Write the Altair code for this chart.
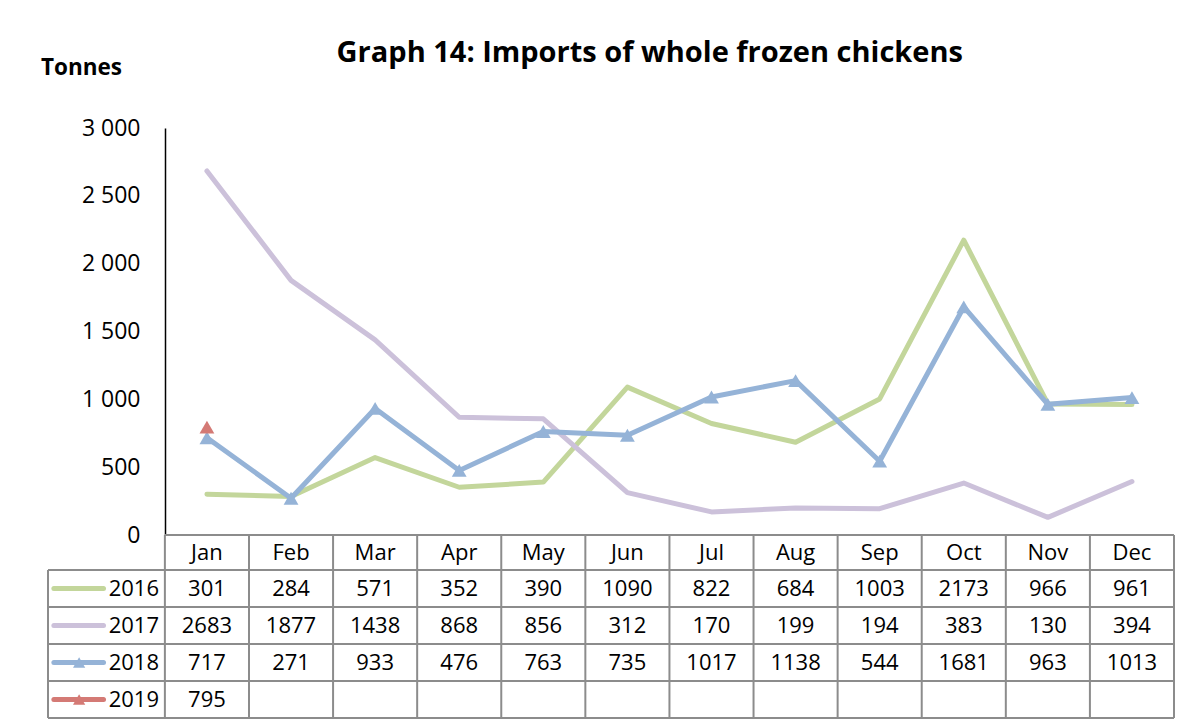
import altair as alt
import pandas as pd

months = ["Jan", "Feb", "Mar", "Apr", "May", "Jun", "Jul", "Aug", "Sep", "Oct", "Nov", "Dec"]
years = ["2016", "2017", "2018", "2019"]
v2016 = [301, 284, 571, 352, 390, 1090, 822, 684, 1003, 2173, 966, 961]
v2017 = [2683, 1877, 1438, 868, 856, 312, 170, 199, 194, 383, 130, 394]
v2018 = [717, 271, 933, 476, 763, 735, 1017, 1138, 544, 1681, 963, 1013]
v2019 = [795]
colors = ["#C3D69B", "#CCC1DA", "#95B3D7", "#D47A75"]
marker_years = ["2018", "2019"]

FONT = "Open Sans"
HDR = 1.39          # width of the row-header column, in month-column units
HEAD = 0.95         # height of the month header row, in table-row units
W, H_PLOT, H_TAB = 1126, 407, 183
TXT = 22

rows = []
for r, (yr, vals) in enumerate(zip(years, [v2016, v2017, v2018, v2019])):
    for i, v in enumerate(vals):
        rows.append({"year": yr, "row": r, "month": months[i], "xpos": i + 0.5,
                     "ypos": r + 0.5, "value": v})
df = pd.DataFrame(rows)
df_months = pd.DataFrame({"month": months, "xpos": [i + 0.5 for i in range(len(months))],
                          "ypos": [-HEAD / 2] * len(months)})
df_years = pd.DataFrame({"year": years, "ypos": [r + 0.5 for r in range(len(years))]})

xs = alt.Scale(domain=[-HDR, 12], nice=False, zero=False)
cs = alt.Scale(domain=years, range=colors)

# ---------------- plot ----------------
yaxis = alt.Axis(values=list(range(0, 3001, 500)),
                 labelExpr="replace(format(datum.value, ','), ',', ' ')",
                 domain=True, domainColor="black", domainWidth=1.5, ticks=False, grid=False,
                 labelFont=FONT, labelFontSize=23, labelColor="black", labelPadding=25,
                 offset=-117, title="Tonnes", titleAngle=0, titleFont=FONT,
                 titleFontSize=22.5, titleFontWeight="bold", titleColor="black",
                 titleAlign="center", titleBaseline="alphabetic", titleX=-84, titleY=-54)

base = alt.Chart(df).encode(
    x=alt.X("xpos:Q", scale=xs, axis=None),
    y=alt.Y("value:Q", scale=alt.Scale(domain=[0, 3000], nice=False), axis=yaxis),
    color=alt.Color("year:N", scale=cs, legend=None),
)
lines = base.transform_filter(alt.datum.year != "2019").mark_line(
    strokeWidth=5, strokeCap="round", strokeJoin="round")
pts = base.transform_filter(alt.FieldOneOfPredicate(field="year", oneOf=marker_years)).mark_point(
    shape="triangle-up", filled=True, size=220, opacity=1)
top = alt.layer(lines, pts).properties(width=W, height=H_PLOT)

# ---------------- table ----------------
ys = alt.Scale(domain=[-HEAD, 4], reverse=True, nice=False, zero=False)
GRID = "#8C8C8C"

vlines = pd.DataFrame({"x": [float(i) for i in range(13)] + [-HDR],
                       "y1": [-HEAD] * 13 + [0.0], "y2": [4.0] * 14})
hlines = pd.DataFrame({"y": [-HEAD, 0, 1, 2, 3, 4], "x1": [0.0] + [-HDR] * 5, "x2": [12.0] * 6})

vr = alt.Chart(vlines).mark_rule(color=GRID, strokeWidth=2).encode(
    x=alt.X("x:Q", scale=xs, axis=None), y=alt.Y("y1:Q", scale=ys, axis=None), y2="y2:Q")
hr = alt.Chart(hlines).mark_rule(color=GRID, strokeWidth=2).encode(
    y=alt.Y("y:Q", scale=ys, axis=None), x=alt.X("x1:Q", scale=xs, axis=None), x2="x2:Q")

mtext = alt.Chart(df_months).mark_text(font=FONT, fontSize=TXT, color="black").encode(
    x=alt.X("xpos:Q", scale=xs, axis=None), y=alt.Y("ypos:Q", scale=ys, axis=None), text="month:N")
vtext = alt.Chart(df).mark_text(font=FONT, fontSize=TXT, color="black").encode(
    x=alt.X("xpos:Q", scale=xs, axis=None), y=alt.Y("ypos:Q", scale=ys, axis=None), text="value:Q")
ytext = alt.Chart(df_years).mark_text(font=FONT, fontSize=TXT, color="black", align="right").encode(
    x=alt.datum(-0.07), y=alt.Y("ypos:Q", scale=ys, axis=None), text="year:N")
keys = alt.Chart(df_years).mark_rule(strokeWidth=5, strokeCap="round").encode(
    x=alt.datum(-1.32), x2=alt.datum(-0.73), y=alt.Y("ypos:Q", scale=ys, axis=None),
    color=alt.Color("year:N", scale=cs, legend=None))
keypts = alt.Chart(df_years).transform_filter(
    alt.FieldOneOfPredicate(field="year", oneOf=marker_years)).mark_point(
    shape="triangle-up", filled=True, size=150, opacity=1).encode(
    x=alt.datum(-1.02), y=alt.Y("ypos:Q", scale=ys, axis=None),
    color=alt.Color("year:N", scale=cs, legend=None))

table = alt.layer(vr, hr, mtext, vtext, ytext, keys, keypts).properties(width=W, height=H_TAB)

chart = alt.vconcat(top, table, spacing=0, bounds="flush").properties(
    title=alt.TitleParams("Graph 14: Imports of whole frozen chickens", font=FONT, fontSize=29,
                          fontWeight="bold", color="black", anchor="middle", dx=42, dy=16),
    padding={"left": 32, "top": 31, "right": 5, "bottom": 0},
).configure_view(stroke=None)

chart.save("out.html", embed_options={"renderer": "svg", "actions": False})
